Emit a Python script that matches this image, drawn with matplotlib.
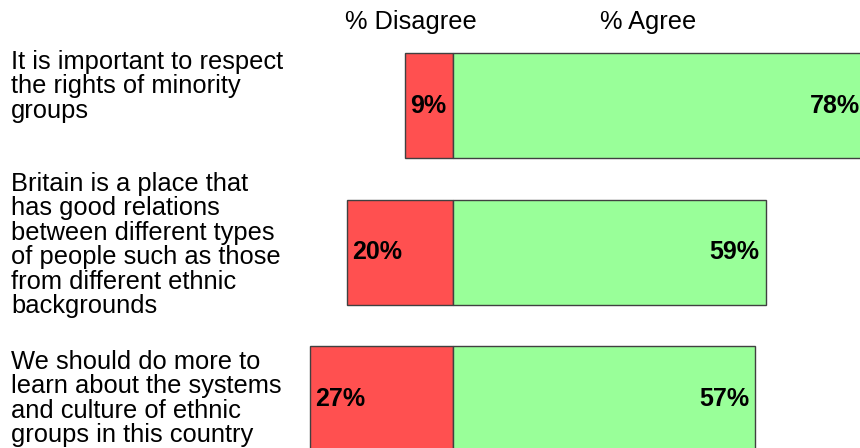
import matplotlib.pyplot as plt

plt.rcParams['font.family'] = ['Liberation Sans', 'DejaVu Sans']

statements = [
    "It is important to respect\nthe rights of minority\ngroups",
    "Britain is a place that\nhas good relations\nbetween different types\nof people such as those\nfrom different ethnic\nbackgrounds",
    "We should do more to\nlearn about the systems\nand culture of ethnic\ngroups in this country",
]
disagree = [9, 20, 27]
agree = [78, 59, 57]

RED = '#ff5050'
GREEN = '#99ff99'
EDGE = '#404040'

W, H = 860, 448
fig = plt.figure(figsize=(W / 100, H / 100), dpi=100)
ax = fig.add_axes([0, 0, 1, 1])

# x in percent, zero at the divider between the two bars
px_per_pct = 5.3
zero_x = 453
ax.set_xlim(-zero_x / px_per_pct, (W - zero_x) / px_per_pct)
# y in row units, first row centred at 105.5 px, one row every 146.5 px
row = 146.5
first = 105.5
ax.set_ylim((H - first) / row, -first / row)
ax.axis('off')

ys = list(range(len(statements)))
h = 105 / row
ax.barh(ys, [-d for d in disagree], height=h, color=RED, edgecolor=EDGE, linewidth=1)
ax.barh(ys, agree, height=h, color=GREEN, edgecolor=EDGE, linewidth=1)

for y, d, a in zip(ys, disagree, agree):
    ax.text(-d + 5 / px_per_pct, y, f"{d}%", ha='left', va='center',
            fontsize=18, fontweight='bold')
    ax.text(a - 6 / px_per_pct, y, f"{a}%", ha='right', va='center',
            fontsize=18, fontweight='bold')

# statement text, top edge of each block in pixels
label_top = [50, 172, 350]
for top, s in zip(label_top, statements):
    fig.text(11 / W, 1 - top / H, s, ha='left', va='top',
             fontsize=18.4, linespacing=1.02)

fig.text(411 / W, 1 - 22 / H, "% Disagree", ha='center', va='center', fontsize=18.3)
fig.text(648 / W, 1 - 22 / H, "% Agree", ha='center', va='center', fontsize=18.3)

fig.savefig('out.png', dpi=100)
